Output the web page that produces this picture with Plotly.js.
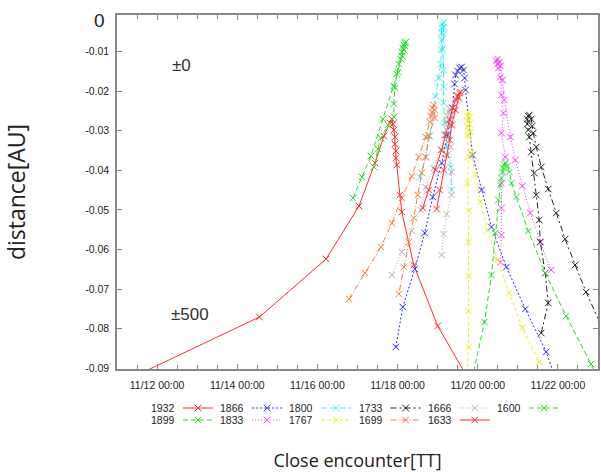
<!DOCTYPE html>
<html>
<head>
<meta charset="utf-8">
<script src="https://cdn.plot.ly/plotly-3.0.1.min.js"></script>
<style>html,body{margin:0;padding:0;background:#fff;}#chart{width:601px;height:472px;}</style>
</head>
<body>
<div id="chart"></div>
<script>
// ---- data: day of November (decimal) and distance [AU] ----
const years = ['1932','1899','1866','1833','1800','1767','1733','1699','1666','1633','1600'];

const day1932 = [10.453,14.553,16.217,17.037,17.435,17.658,17.807,17.857,17.882,17.907,17.932,17.932,17.957,17.957,17.981,18.056,18.106,18.404,19.000,20.043];
const dist1932 = [-0.09674,-0.07705,-0.0624,-0.04902,-0.03816,-0.03134,-0.02806,-0.02705,-0.02831,-0.02982,-0.03159,-0.03336,-0.03513,-0.03689,-0.03866,-0.04624,-0.05053,-0.06391,-0.07932,-0.0975];

const day1899 = [16.888,17.112,17.335,17.634,17.907,18.006,18.081,18.106,18.130,18.155,18.180,18.205,18.180,18.155,18.106,18.031,17.981,17.932,17.907,17.907,17.758,17.584,17.509,17.410];
const dist1899 = [-0.0470,-0.0417,-0.03639,-0.02705,-0.01871,-0.01518,-0.01189,-0.01013,-0.00912,-0.00836,-0.00785,-0.0076,-0.00861,-0.00962,-0.01114,-0.01316,-0.01568,-0.01922,-0.02326,-0.02654,-0.02856,-0.03185,-0.03462,-0.03917];

const day1866 = [17.957,18.130,18.429,18.677,18.876,19.099,19.248,19.373,19.422,19.447,19.497,19.547,19.596,19.646,19.671,19.696,19.870,20.093,20.342,20.714,21.186,21.708,22.056];
const dist1866 = [-0.08462,-0.07452,-0.06492,-0.05583,-0.04674,-0.03816,-0.03109,-0.02427,-0.01821,-0.01593,-0.01492,-0.01417,-0.01391,-0.01467,-0.01669,-0.01972,-0.03614,-0.04497,-0.05432,-0.06442,-0.07503,-0.08588,-0.09598];

const day1833 = [20.565,20.590,20.590,20.590,20.689,20.590,20.640,20.590,20.565,20.516,20.491,20.466,20.491,20.540,20.565,20.615,20.665,20.814,20.938,21.112,21.311,21.559,21.832];
const dist1833 = [-0.06316,-0.05634,-0.04952,-0.04321,-0.03664,-0.03058,-0.02553,-0.02098,-0.01644,-0.01417,-0.01316,-0.0124,-0.01189,-0.01265,-0.01366,-0.0172,-0.02225,-0.03159,-0.0374,-0.04396,-0.05078,-0.05811,-0.06518];

const day1800 = [18.553,18.702,18.801,18.950,19.025,19.075,19.099,19.099,19.099,19.099,19.124,19.149,19.149,19.149,19.124,19.149,19.149,19.149,19.174,19.199,19.224,19.323,19.348];
const dist1800 = [-0.04169,-0.03664,-0.03134,-0.02124,-0.01669,-0.01316,-0.00962,-0.0071,-0.00533,-0.00407,-0.00306,-0.00255,-0.00381,-0.00558,-0.00912,-0.01467,-0.01896,-0.0230,-0.02806,-0.03109,-0.03412,-0.03917,-0.04497];

const day1767 = [19.720,19.770,19.770,19.770,19.770,19.770,19.745,19.770,19.745,19.745,19.745,19.745,19.770,19.795,19.795,19.820,19.845,19.944,20.068,20.242,20.491,20.789,21.112,21.534];
const dist1767 = [-0.09422,-0.08462,-0.07553,-0.06669,-0.05811,-0.05028,-0.04321,-0.03664,-0.03109,-0.02907,-0.02755,-0.02629,-0.02553,-0.02654,-0.02831,-0.03033,-0.03563,-0.04119,-0.04801,-0.05508,-0.06265,-0.07098,-0.07982,-0.08841];

const day1733 = [21.584,21.758,21.683,21.559,21.534,21.460,21.410,21.335,21.286,21.261,21.236,21.236,21.261,21.286,21.335,21.360,21.385,21.460,21.584,21.758,21.957,22.180,22.429,22.702,23.075];
const dist1733 = [-0.08109,-0.07351,-0.06593,-0.05811,-0.05255,-0.04624,-0.04068,-0.03538,-0.03159,-0.02982,-0.02831,-0.02705,-0.02629,-0.02604,-0.02705,-0.02881,-0.03058,-0.03412,-0.03917,-0.04472,-0.05078,-0.05735,-0.06391,-0.07073,-0.07907];

const day1699 = [16.789,17.186,17.584,17.857,18.106,18.354,18.528,18.702,18.801,18.826,18.851,18.876,18.901,18.925,18.925,18.776,18.702,18.602,18.503,18.404,18.280,18.155,18.031];
const dist1699 = [-0.0725,-0.06593,-0.05937,-0.05331,-0.0470,-0.04144,-0.03664,-0.03159,-0.0278,-0.02629,-0.02528,-0.02427,-0.02351,-0.02477,-0.02679,-0.03134,-0.03664,-0.04068,-0.04624,-0.05205,-0.05811,-0.06442,-0.07124];

const day1666 = [17.857,18.106,18.354,18.578,18.702,18.901,19.075,19.174,19.224,19.248,19.273,19.298,19.323,19.348,19.323,19.323,19.348,19.348,19.224,19.149,19.099];
const dist1666 = [-0.06644,-0.06063,-0.05533,-0.05003,-0.04422,-0.03942,-0.03487,-0.03109,-0.0278,-0.02629,-0.02528,-0.02452,-0.02477,-0.02604,-0.02856,-0.03412,-0.04043,-0.04624,-0.05104,-0.05609,-0.06139];

const day1633 = [18.627,18.776,18.950,19.099,19.199,19.298,19.373,19.447,19.497,19.547,19.571,19.522,19.447,19.348,19.298,19.224,19.149,19.050,18.975];
const dist1633 = [-0.04952,-0.04497,-0.03992,-0.03487,-0.03109,-0.0273,-0.02427,-0.02225,-0.02124,-0.02048,-0.02023,-0.02174,-0.02477,-0.02856,-0.03235,-0.03614,-0.03992,-0.04497,-0.04977];

const day1600 = [19.770,20.168,20.342,20.441,20.516,20.565,20.590,20.615,20.640,20.665,20.689,20.739,20.789,20.839,20.963,21.261,21.683,22.205,22.826,23.248];
const dist1600 = [-0.09674,-0.07831,-0.06644,-0.05583,-0.0475,-0.04371,-0.04194,-0.04043,-0.03942,-0.03866,-0.03816,-0.03891,-0.04043,-0.04321,-0.04674,-0.05533,-0.06593,-0.07679,-0.08891,-0.0975];

const yTickVals = [-0.01,-0.02,-0.03,-0.04,-0.05,-0.06,-0.07,-0.08,-0.09];
const yTickText = ['-0.01','-0.02','-0.03','-0.04','-0.05','-0.06','-0.07','-0.08','-0.09'];
const noteTexts = ['±0','±500'];

// ---- styling ----
const seriesDays = {'1932':day1932,'1899':day1899,'1866':day1866,'1833':day1833,'1800':day1800,'1767':day1767,'1733':day1733,'1699':day1699,'1666':day1666,'1633':day1633,'1600':day1600};
const seriesDist = {'1932':dist1932,'1899':dist1899,'1866':dist1866,'1833':dist1833,'1800':dist1800,'1767':dist1767,'1733':dist1733,'1699':dist1699,'1666':dist1666,'1633':dist1633,'1600':dist1600};
const styles = {
  '1932':{c:'#ff2a2a',d:'solid'},
  '1899':{c:'#22e022',d:'5px,3px'},
  '1866':{c:'#2a2aff',d:'2px,2px'},
  '1833':{c:'#ff30ff',d:'1px,2px'},
  '1800':{c:'#30eeee',d:'6px,3px'},
  '1767':{c:'#eeee10',d:'3px,3px'},
  '1733':{c:'#222222',d:'6px,3px,2px,3px'},
  '1699':{c:'#ff7a3a',d:'6px,2px,1px,2px'},
  '1666':{c:'#b0b0b0',d:'1px,2px'},
  '1633':{c:'#ff2a2a',d:'solid'},
  '1600':{c:'#22e022',d:'5px,3px'}
};
const row1 = ['1932','1866','1800','1733','1666','1600'];

const base = Date.UTC(2001, 9, 31);
function toDate(d){
  return new Date(base + d*86400000).toISOString().replace('T',' ').replace('Z','');
}

const traces = years.map(function(y){
  const s = styles[y];
  return {
    type:'scatter', mode:'lines+markers',
    x: seriesDays[y].map(toDate), y: seriesDist[y],
    name:' ',
    legend: row1.indexOf(y) >= 0 ? 'legend' : 'legend2',
    line:{color:s.c, width:1, dash:s.d},
    marker:{symbol:'x-thin-open', size:6.5, color:s.c, line:{width:1, color:s.c}},
    hovertemplate: y + ': %{x}<br>%{y}<extra></extra>',
    cliponaxis:true
  };
});

// legend labels (text left of sample, as in the original)
const W = 481, H = 354, L = 117, B = 369;
const annotations = [];
const row2 = years.filter(function(y){return row1.indexOf(y) < 0;});
[row1,row2].forEach(function(row, r){
  row.forEach(function(y, k){
    annotations.push({xref:'paper', yref:'paper', x:(177 + 69.2*k - L)/W, y:(B - (408 + 12*r))/H,
      xanchor:'right', yanchor:'middle', showarrow:false, text:y,
      font:{family:'Liberation Sans, Arial, sans-serif', size:10.5, color:'#222'}});
  });
});
annotations.push({xref:'paper', yref:'paper', x:(181 - L)/W, y:(B - 65)/H, xanchor:'center', yanchor:'middle',
  showarrow:false, text:noteTexts[0], font:{family:'Liberation Sans, Arial, sans-serif', size:17, color:'#333'}});
annotations.push({xref:'paper', yref:'paper', x:(189.5 - L)/W, y:(B - 314)/H, xanchor:'center', yanchor:'middle',
  showarrow:false, text:noteTexts[1], font:{family:'Liberation Sans, Arial, sans-serif', size:17, color:'#333'}});
annotations.push({xref:'paper', yref:'paper', x:(99 - L)/W, y:(B - 20)/H, xanchor:'center', yanchor:'middle',
  showarrow:false, text:'0', font:{family:'Liberation Sans, Arial, sans-serif', size:19, color:'#222'}});

const legendBase = {orientation:'h', xanchor:'left', yanchor:'top', entrywidth:24.2, entrywidthmode:'pixels',
  bgcolor:'rgba(0,0,0,0)', borderwidth:0, itemwidth:30, font:{family:'Liberation Sans, Arial, sans-serif', size:10, color:'#222'}};

const layout = {
  width:601, height:472,
  margin:{l:117, r:3, t:15, b:103, pad:0, autoexpand:false},
  paper_bgcolor:'#ffffff', plot_bgcolor:'#ffffff',
  showlegend:true,
  legend:Object.assign({}, legendBase, {x:(178 - L)/W, y:(B - 393.5)/H}),
  legend2:Object.assign({}, legendBase, {x:(178 - L)/W, y:(B - 405.5)/H}),
  xaxis:{
    type:'date', range:['2001-11-11 00:00','2001-11-23 00:00'],
    tick0:'2001-11-12', dtick:172800000, tickformat:'%m/%d %H:%M',
    ticks:'inside', ticklen:5, tickwidth:1, tickcolor:'#888',
    minor:{dtick:43200000, ticks:'inside', ticklen:4, tickwidth:1, tickcolor:'#888', showgrid:false},
    showline:true, linecolor:'#888', linewidth:1.5, mirror:'ticks',
    showgrid:false, zeroline:false, ticklabelstandoff:6,
    tickfont:{family:'Liberation Sans, Arial, sans-serif', size:10.5, color:'#222'},
    title:{text:'Close encounter[TT]', standoff:65, font:{family:'Open Sans, sans-serif', size:18, color:'#222'}}
  },
  yaxis:{
    range:[-0.09018,-0.00078], tickvals:yTickVals, ticktext:yTickText,
    ticks:'inside', ticklen:5, tickwidth:1, tickcolor:'#888',
    showline:true, linecolor:'#888', linewidth:1.5, mirror:'ticks',
    showgrid:false, zeroline:false, ticklabelstandoff:4,
    tickfont:{family:'Liberation Sans, Arial, sans-serif', size:10.5, color:'#222'},
    title:{text:'distance[AU]', standoff:53, font:{family:'Open Sans, sans-serif', size:23, color:'#222'}}
  },
  annotations:annotations
};

Plotly.newPlot('chart', traces, layout, {displayModeBar:false, staticPlot:false});
</script>
</body>
</html>
